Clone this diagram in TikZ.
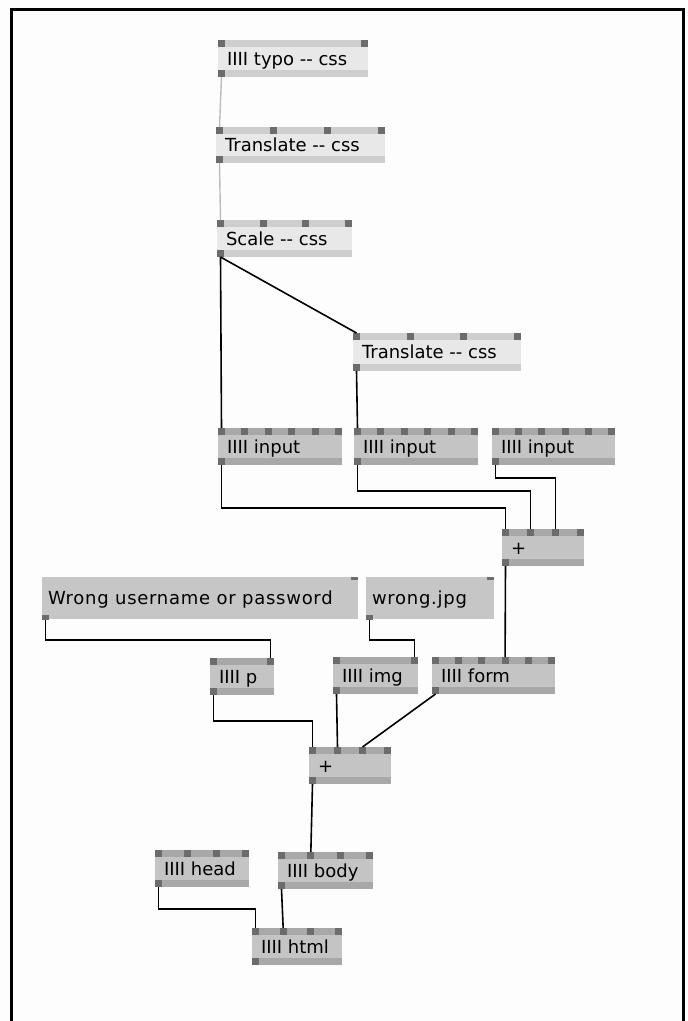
\documentclass[tikz,border=0pt]{standalone}
\usepackage{fontspec}
\setmainfont{DejaVu Sans}
\newfontfamily\msgfont[LetterSpace=4]{DejaVu Sans}
\usetikzlibrary{calc}
\definecolor{lightbody}{HTML}{E8E8E8}
\definecolor{lightbar}{HTML}{CECECE}
\definecolor{darkbody}{HTML}{C4C4C4}
\definecolor{darkbar}{HTML}{A8A8A8}
\definecolor{portc}{HTML}{6C6C6C}
\definecolor{msgbody}{HTML}{C6C6C6}
\definecolor{wireg}{HTML}{BDBDBD}
\definecolor{bgc}{HTML}{FDFDFD}
\tikzset{
  objbox/.style={rectangle, inner sep=0pt, outer sep=0pt, draw=none},
  objtext/.style={inner sep=0pt, outer sep=0pt, font=\fontsize{18}{20}\selectfont, text=black},
  msgtext/.style={inner sep=0pt, outer sep=0pt, font=\msgfont\fontsize{18}{20}\selectfont, text=black},
  port/.style={fill=portc},
  wire/.style={draw=black, line width=1.6pt},
  lightwire/.style={draw=wireg, line width=1.4pt},
  frame/.style={draw=black, line width=3pt},
}
% name, x, y, w, h, number of inlets, text, kind (light/dark)
\newcommand\pdobj[8]{%
  \node[objbox, fill=#8body, minimum width=#4pt, minimum height=#5pt, anchor=north west] (#1) at (#2,#3) {};
  \fill[#8bar] (#1.north west) rectangle ($(#1.north east)+(0,7)$);
  \fill[#8bar] (#1.south west) rectangle ($(#1.south east)+(0,-7)$);
  \node[objtext, anchor=base west] (#1-t) at ($(#1.west)+(9,6.5)$) {#7};
  \fill[port] (#1.south west) rectangle ++(7,-7);
  \coordinate (#1-o) at ($(#1.south west)+(3.5,0)$);
  \foreach \i in {1,...,#6}{%
    \pgfmathsetmacro\px{(\i-1)*(#4-7)/(#6-1)}%
    \fill[port] ($(#1.north west)+(\px,0)$) rectangle ++(7,7);
    \coordinate (#1-i\i) at ($(#1.north west)+(\px+3.5,0)$);
  }%
}
% name, x, y, w, h, text
\newcommand\pdmsg[6]{%
  \node[objbox, fill=msgbody, minimum width=#4pt, minimum height=#5pt, anchor=north west] (#1) at (#2,#3) {};
  \node[msgtext, anchor=base west] (#1-t) at ($(#1.west)+(6,6.5)$) {#6};
  \fill[port] ($(#1.north east)+(-7,0)$) rectangle ++(7,3);
  \fill[port] ($(#1.south west)+(0,-4)$) rectangle ++(7,5);
  \coordinate (#1-o) at ($(#1.south west)+(3.5,1)$);
}
\begin{document}
\begin{tikzpicture}[x=1pt,y=-1pt]
\path[use as bounding box, fill=bgc] (0,0) rectangle (688,1021);
\draw[frame] (11,1025) -- (11,9.5) -- (683,9.5) -- (683,1025);

\pdobj{typo}{218}{40}{150}{37}{2}{IIII typo -{}- css}{light}
\pdobj{tr1}{216}{127}{169}{36}{4}{Translate -{}- css}{light}
\pdobj{scale}{217}{220}{135}{37}{4}{Scale -{}- css}{light}
\pdobj{tr2}{353}{333}{168}{38}{4}{Translate -{}- css}{light}
\pdobj{in1}{218}{428}{124}{37}{6}{IIII input}{dark}
\pdobj{in2}{354}{428}{124}{37}{6}{IIII input}{dark}
\pdobj{in3}{492}{428}{123}{37}{6}{IIII input}{dark}
\pdobj{plus1}{502}{529}{82}{37}{4}{+}{dark}
\pdmsg{wrong}{42}{577}{316}{42}{Wrong username or password}
\pdmsg{jpg}{366}{577}{128}{42}{wrong.jpg}
\pdobj{p}{210}{658}{64}{37}{2}{IIII p}{dark}
\pdobj{img}{333}{657}{85}{37}{2}{IIII img}{dark}
\pdobj{form}{432}{657}{123}{37}{6}{IIII form}{dark}
\pdobj{plus2}{309}{747}{82}{37}{4}{+}{dark}
\pdobj{head}{155}{850}{94}{37}{4}{IIII head}{dark}
\pdobj{body}{278}{852}{95}{37}{4}{IIII body}{dark}
\pdobj{html}{252}{928}{90}{37}{4}{IIII html}{dark}

\draw[lightwire] (typo-o) -- (tr1-i1);
\draw[lightwire] (tr1-o) -- (scale-i1);
\draw[wire] (scale-o) -- (in1-i1);
\draw[wire] (scale-o) -- (tr2-i1);
\draw[wire] (tr2-o) -- (in2-i1);
\draw[wire] (in1-o) -- ++(0,43) -| (plus1-i1);
\draw[wire] (in2-o) -- ++(0,26) -| (plus1-i2);
\draw[wire] (in3-o) -- ++(0,13) -| (plus1-i3);
\draw[wire] (plus1-o) -- (form-i4);
\draw[wire] (wrong-o) -- ++(0,20) -| (p-i2);
\draw[wire] (jpg-o) -- ++(0,20) -| (img-i2);
\draw[wire] (p-o) -- ++(0,26) -| (plus2-i1);
\draw[wire] (img-o) -- (plus2-i2);
\draw[wire] (form-o) -- (plus2-i3);
\draw[wire] (plus2-o) -- (body-i2);
\draw[wire] (head-o) -- ++(0,22) -| (html-i1);
\draw[wire] (body-o) -- (html-i2);
\end{tikzpicture}
\end{document}
